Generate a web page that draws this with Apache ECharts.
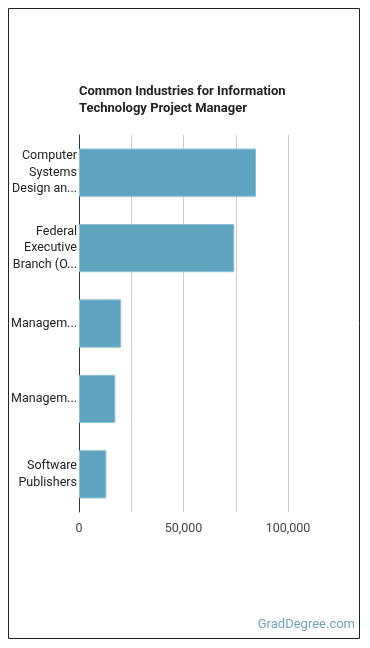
<!DOCTYPE html>
<html>
<head>
<meta charset="utf-8">
<script src="https://cdn.jsdelivr.net/npm/echarts@6/dist/echarts.min.js"></script>
<style>
  html, body { margin: 0; padding: 0; background: #fff; }
  #chart { width: 370px; height: 648px; }
</style>
</head>
<body>
<div id="chart"></div>
<script>
// industries, top to bottom
var industries = ['Computer\nSystems\nDesign an...', 'Federal\nExecutive\nBranch (O...', 'Managem...', 'Managem...', 'Software\nPublishers'];
var employment = [84700, 74300, 20200, 17400, 13100];
var tickLabels = ['0', '50,000', '100,000'];

var myChart = echarts.init(document.getElementById('chart'));
var option = {
    animation: false,
    title: {
        text: 'Common Industries for Information\nTechnology Project Manager',
        left: 79,
        top: 83,
        padding: 0,
        textStyle: {
            fontFamily: 'Roboto',
            fontSize: 13,
            fontWeight: 'bold',
            color: '#222',
            lineHeight: 17
        }
    },
    grid: {
        left: 79,
        right: 82,
        top: 135,
        bottom: 136,
        containLabel: false
    },
    xAxis: {
        type: 'value',
        min: 0,
        max: 100000,
        interval: 25000,
        axisLine: { show: false },
        axisTick: { show: false },
        splitLine: { lineStyle: { color: '#ccc', width: 1 } },
        axisLabel: {
            fontFamily: 'Roboto',
            fontSize: 12.5,
            color: '#444',
            margin: 10,
            formatter: function (v) {
                if (v % 50000 !== 0) return '';
                return tickLabels[v / 50000];
            }
        }
    },
    yAxis: {
        type: 'category',
        inverse: true,
        data: industries,
        axisLine: { show: true, lineStyle: { color: '#333', width: 1 } },
        axisTick: { show: false },
        axisLabel: {
            fontFamily: 'Roboto',
            fontSize: 12.5,
            color: '#222',
            lineHeight: 16.5,
            margin: 2,
            align: 'right'
        }
    },
    series: [
        {
            type: 'bar',
            data: employment,
            barWidth: '64%',
            itemStyle: {
                color: '#5ea4c1',
                borderColor: '#8fc0d4',
                borderWidth: 1
            }
        }
    ],
    graphic: [
        {
            type: 'rect',
            shape: { x: 8.5, y: 8.5, width: 351, height: 630 },
            style: { fill: 'none', stroke: '#222', lineWidth: 1 },
            silent: true
        },
        {
            type: 'text',
            right: 15,
            top: 618,
            style: {
                text: 'GradDegree.com',
                font: '13px Roboto',
                fill: '#6fa3c2'
            }
        }
    ]
};
myChart.setOption(option);
</script>
</body>
</html>
